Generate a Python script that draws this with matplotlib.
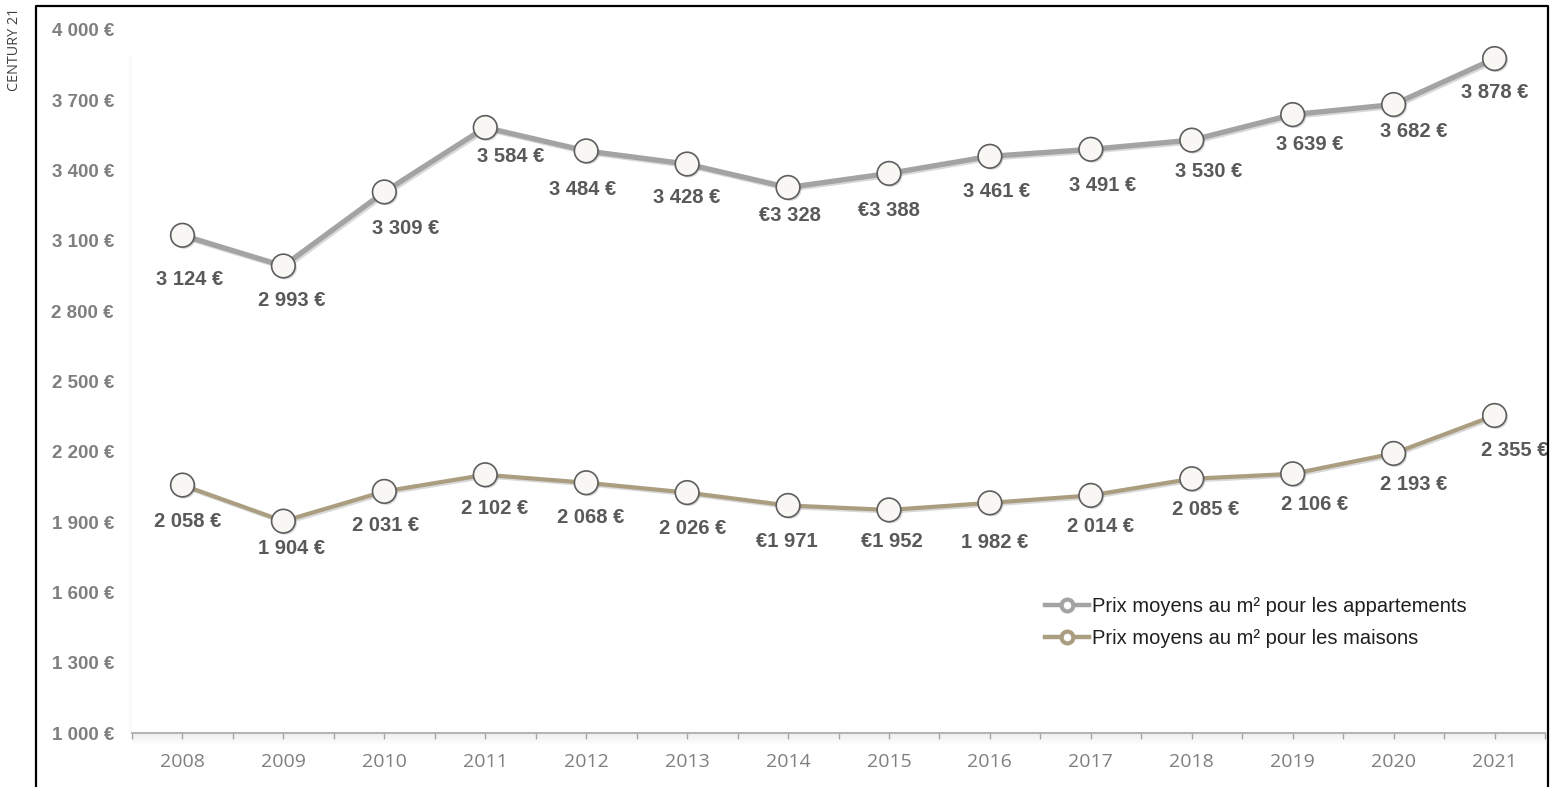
import matplotlib
matplotlib.use("Agg")
import matplotlib.pyplot as plt
import matplotlib.patheffects as pe
from matplotlib.lines import Line2D
from matplotlib.patches import Rectangle

# ---- données -------------------------------------------------------------
annees = ["2008", "2009", "2010", "2011", "2012", "2013", "2014",
          "2015", "2016", "2017", "2018", "2019", "2020", "2021"]
prix_appart = [3124, 2993, 3309, 3584, 3484, 3428, 3328,
               3388, 3461, 3491, 3530, 3639, 3682, 3878]
prix_maison = [2058, 1904, 2031, 2102, 2068, 2026, 1971,
               1952, 1982, 2014, 2085, 2106, 2193, 2355]
etiq_appart = ["3 124 €", "2 993 €", "3 309 €", "3 584 €", "3 484 €", "3 428 €", "€3 328",
               "€3 388", "3 461 €", "3 491 €", "3 530 €", "3 639 €", "3 682 €", "3 878 €"]
etiq_maison = ["2 058 €", "1 904 €", "2 031 €", "2 102 €", "2 068 €", "2 026 €", "€1 971",
               "€1 952", "1 982 €", "2 014 €", "2 085 €", "2 106 €", "2 193 €", "2 355 €"]
yticks = [1000, 1300, 1600, 1900, 2200, 2500, 2800, 3100, 3400, 3700, 4000]
ytick_labels = ["1 000 €", "1 300 €", "1 600 €", "1 900 €", "2 200 €", "2 500 €",
                "2 800 €", "3 100 €", "3 400 €", "3 700 €", "4 000 €"]

# décalages des étiquettes (pixels, x vers la droite, y vers le bas)
off_appart = [(7, 44), (8, 35), (21, 37), (25, 29), (-4, 39), (0, 33), (2, 28),
              (0, 37), (7, 35), (12, 36), (17, 31), (17, 30), (20, 27), (0, 34)]
off_maison = [(5, 36), (8, 27), (1, 34), (9, 34), (5, 35), (6, 36), (-1, 36),
              (3, 32), (5, 40), (10, 31), (14, 31), (22, 31), (20, 31), (20, 35)]

COL_APP = "#a3a3a3"
COL_MAI = "#ab9e80"
COL_TXT = "#595959"
COL_AX = "#7f7f7f"

W, H = 1550, 787
fig = plt.figure(figsize=(W / 100, H / 100), dpi=100)
fig.patch.set_facecolor("white")

ax_l, ax_r = 132 / W, 1545 / W
ax_b, ax_t = (H - 733) / H, (H - 30) / H
ax = fig.add_axes([ax_l, ax_b, ax_r - ax_l, ax_t - ax_b])
ax.set_facecolor("none")

x = list(range(len(annees)))
shadow = [pe.SimpleLineShadow(offset=(1.2, -1.2), alpha=0.15), pe.Normal()]

ax.plot(x, prix_appart, color=COL_APP, lw=3.8, zorder=3, path_effects=shadow,
        solid_capstyle="round")
ax.plot(x, prix_maison, color=COL_MAI, lw=3.0, zorder=3, path_effects=shadow,
        solid_capstyle="round")
for serie in (prix_appart, prix_maison):
    ax.plot(x, serie, ls="none", marker="o", ms=17, mfc="#f8f7f4", mec="#5e5e5e",
            mew=1.2, zorder=4,
            path_effects=[pe.SimplePatchShadow(offset=(1.2, -1.2), alpha=0.22), pe.Normal()])

for xi, v, t, (dx, dy) in zip(x, prix_appart, etiq_appart, off_appart):
    ax.annotate(t, (xi, v), xytext=(dx, -dy), textcoords="offset pixels",
                ha="center", va="center", fontsize=14.5, fontweight="bold",
                color=COL_TXT, family="Liberation Sans", zorder=5)
for xi, v, t, (dx, dy) in zip(x, prix_maison, etiq_maison, off_maison):
    ax.annotate(t, (xi, v), xytext=(dx, -dy), textcoords="offset pixels",
                ha="center", va="center", fontsize=14.5, fontweight="bold",
                color=COL_TXT, family="Liberation Sans", zorder=5)

ax.set_xlim(-0.5, len(annees) - 0.5)
ax.set_ylim(1000, 4000)
ax.set_yticks(yticks)
ax.set_yticklabels(ytick_labels, fontsize=13.5, fontweight="bold", color=COL_AX,
                   family="Liberation Sans")
ax.tick_params(axis="y", length=0, pad=13)
ax.set_xticks(x)
ax.set_xticklabels(annees, fontsize=14, color=COL_AX, family="Open Sans")
ax.set_xticks([i - 0.5 for i in range(len(annees) + 1)], minor=True)
ax.tick_params(axis="x", which="both", length=4.5, width=1, color="#a6a6a6",
               direction="out", pad=10)
for s in ("top", "right", "left"):
    ax.spines[s].set_visible(False)
ax.spines["bottom"].set_color("#a6a6a6")
ax.spines["bottom"].set_linewidth(1.2)

# ombre sous l'axe des x et bord gauche de la zone de tracé
for i in range(12):
    a = 0.16 * (1 - i / 12)
    fig.add_artist(Rectangle((ax_l, ax_b - (i + 1) / H), ax_r - ax_l, 1 / H,
                             transform=fig.transFigure, color="#9a9a9a",
                             alpha=a, lw=0, zorder=0))
for i in range(4):
    fig.add_artist(Rectangle((ax_l - (i + 1) / W, ax_b), 1 / W, 0.86,
                             transform=fig.transFigure, color="#bbbbbb",
                             alpha=0.10 * (1 - i / 4), lw=0, zorder=0))

# légende
handles = [
    Line2D([0], [0], color=COL_APP, lw=3.2, marker="o", ms=8.5, mfc="white",
           mec=COL_APP, mew=3),
    Line2D([0], [0], color=COL_MAI, lw=3.2, marker="o", ms=8.5, mfc="white",
           mec=COL_MAI, mew=3),
]
fig.legend(handles, ["Prix moyens au m² pour les appartements",
                     "Prix moyens au m² pour les maisons"],
           loc="upper left", bbox_to_anchor=(1045 / W, 1 - 597 / H),
           frameon=False, handlelength=2.2, handletextpad=0.12,
           labelspacing=0.65, borderaxespad=0, borderpad=0,
           prop={"family": "Liberation Sans", "size": 14.5}, labelcolor="#1f1f1f")

# cadre et source
fig.add_artist(Line2D([36 / W, 36 / W, 1548 / W, 1548 / W], [0, 1 - 6 / H, 1 - 6 / H, 0],
                      transform=fig.transFigure, color="black", lw=1.6))
fig.text(14 / W, 1 - 8 / H, "CENTURY 21", rotation=90, ha="center", va="top",
         fontsize=10.4, color="#404040", family="Open Sans")

fig.savefig("out.png", dpi=100)
